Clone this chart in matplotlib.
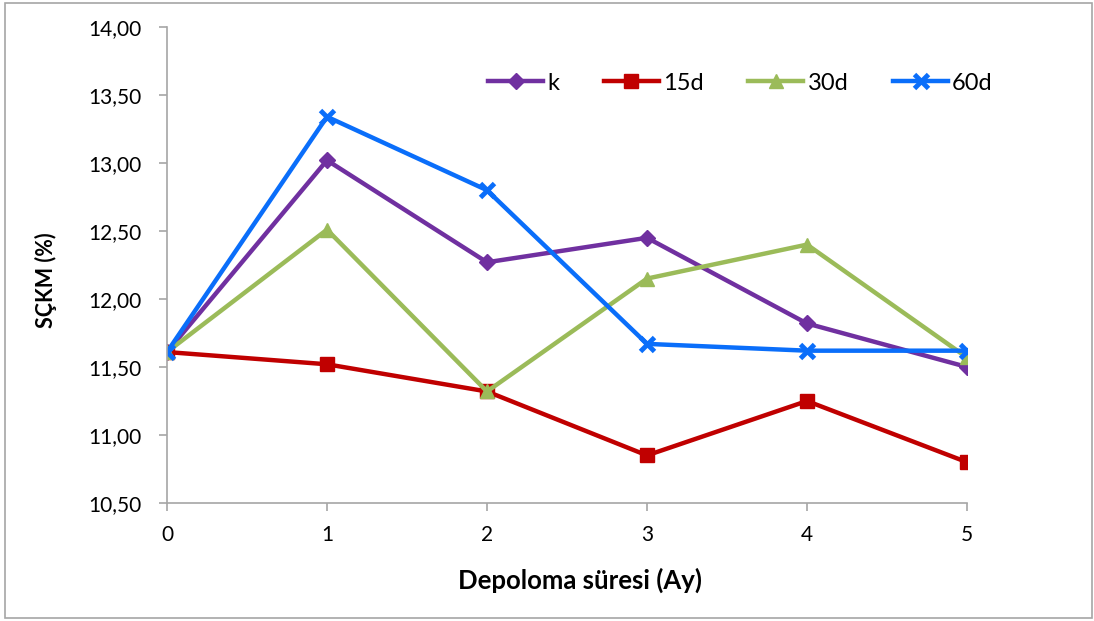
import matplotlib
matplotlib.use("Agg")
import matplotlib.pyplot as plt
from matplotlib.ticker import FuncFormatter, MultipleLocator
from matplotlib.patches import Rectangle

plt.rcParams['font.family'] = ['Lato', 'DejaVu Sans']

months = [0, 1, 2, 3, 4, 5]
k_vals = [11.61, 13.02, 12.27, 12.45, 11.82, 11.50]
d15_vals = [11.61, 11.52, 11.32, 10.85, 11.25, 10.80]
d30_vals = [11.61, 12.51, 11.32, 12.15, 12.40, 11.57]
d60_vals = [11.61, 13.34, 12.80, 11.67, 11.62, 11.62]
labels = ['k', '15d', '30d', '60d']

fig = plt.figure(figsize=(10.94, 6.21), dpi=100)
ax = fig.add_axes([167/1094, 1-503/621, 800/1094, 476/621])

lw = 3.2
ax.plot(months, k_vals, color='#7030A0', lw=lw, marker='D', ms=8, label=labels[0])
ax.plot(months, d15_vals, color='#C00000', lw=lw, marker='s', ms=10, label=labels[1])
ax.plot(months, d30_vals, color='#9BBB59', lw=lw, marker='^', ms=10, label=labels[2])
ax.plot(months, d60_vals, color='#0A6EFA', lw=lw, marker='x', ms=10, mew=3.5, label=labels[3])

ax.set_xlim(0, 5)
ax.set_ylim(10.5, 14.0)
ax.yaxis.set_major_locator(MultipleLocator(0.5))
ax.xaxis.set_major_locator(MultipleLocator(1))
ax.yaxis.set_major_formatter(FuncFormatter(lambda v, p: f"{v:.2f}".replace('.', ',')))

for s in ['top', 'right']:
    ax.spines[s].set_visible(False)
for s in ['left', 'bottom']:
    ax.spines[s].set_color('#A6A6A6')
    ax.spines[s].set_linewidth(1.2)
ax.tick_params(axis='both', direction='out', length=6, width=1.2, color='#A6A6A6',
               labelsize=15, labelcolor='black')
ax.tick_params(axis='x', pad=10)
ax.tick_params(axis='y', pad=12)

ax.set_xlabel('Depoloma süresi (Ay)', fontsize=18.5, fontweight='bold', va='center')
ax.xaxis.set_label_coords((580-167)/800, (503-580)/476)
ax.set_ylabel('SÇKM (%)', fontsize=15.5, fontweight='bold', va='center')
ax.yaxis.set_label_coords((46-167)/800, (503-280)/476)

leg = ax.legend(loc='center left', bbox_to_anchor=((488-167)/800, (503-83)/476), ncol=4,
                frameon=False, borderpad=0, borderaxespad=0,
                fontsize=17, handlelength=2.33, columnspacing=1.9, handletextpad=0.17)

fig.patches.append(Rectangle((5/1094, 3/621), 1087/1094, 615/621, transform=fig.transFigure,
                             fill=False, edgecolor='#A6A6A6', lw=1.2))

fig.savefig('out.png', dpi=100)
